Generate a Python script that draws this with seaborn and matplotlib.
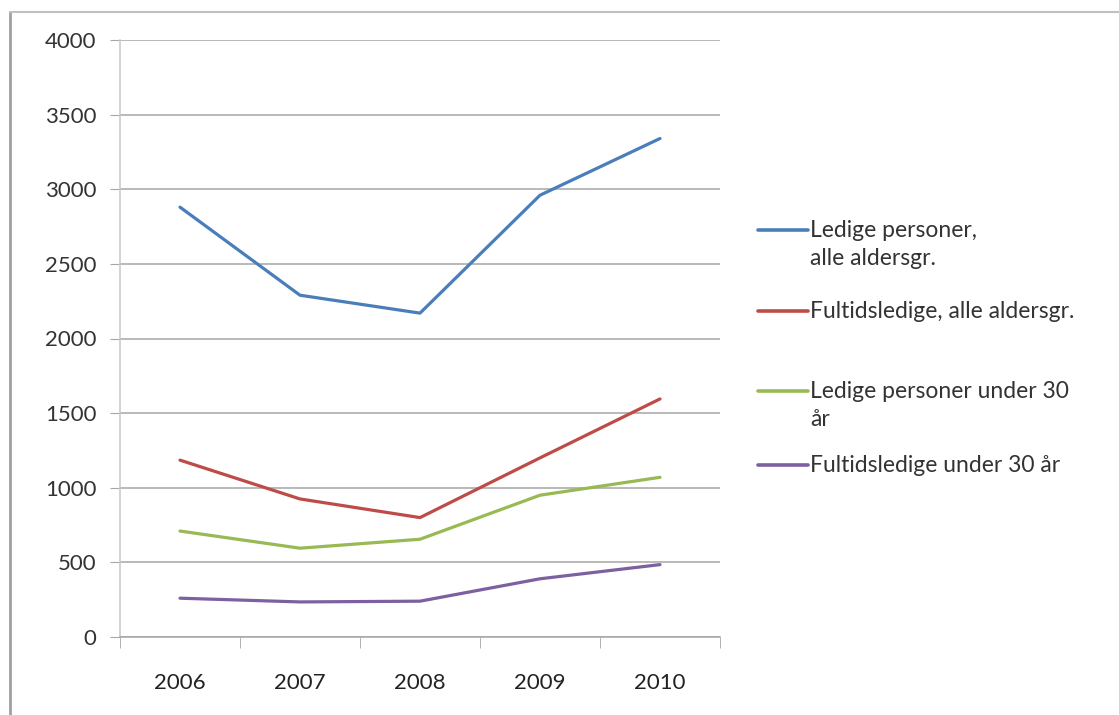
import pandas as pd
import matplotlib
matplotlib.use("Agg")
import matplotlib.pyplot as plt
import seaborn as sns
from matplotlib.lines import Line2D

# Data
years = ["2006", "2007", "2008", "2009", "2010"]
ledige_alle = [2880, 2290, 2170, 2960, 3340]
fultid_alle = [1185, 925, 800, 1200, 1595]
ledige_u30 = [710, 595, 655, 950, 1070]
fultid_u30 = [260, 235, 240, 390, 485]

series_names = [
    "Ledige personer,\nalle aldersgr.",
    "Fultidsledige, alle aldersgr.",
    "Ledige personer under 30\når",
    "Fultidsledige under 30 år",
]
colors = ["#4a7ebb", "#be4b48", "#98b954", "#7d60a0"]

df = pd.DataFrame({
    "year": years * 4,
    "pos": list(range(len(years))) * 4,
    "value": ledige_alle + fultid_alle + ledige_u30 + fultid_u30,
    "series": [s for s in series_names for _ in years],
})

sns.set_style("white")
plt.rcParams["font.family"] = ["Lato", "DejaVu Sans"]

fig = plt.figure(figsize=(11.19, 7.15), dpi=100)
ax = fig.add_axes([120 / 1119, 78 / 715, 600 / 1119, 597 / 715])

sns.lineplot(data=df, x="pos", y="value", hue="series", hue_order=series_names,
             palette=colors, linewidth=2.3, legend=False, ax=ax)

ax.set_xlim(-0.5, len(years) - 0.5)
ax.set_ylim(0, 4000)
ax.set_yticks(range(0, 4001, 500))
ax.set_xticks(range(len(years)))
ax.set_xticklabels(years)
ax.set_xticks([i - 0.5 for i in range(len(years) + 1)], minor=True)
ax.set_xlabel("")
ax.set_ylabel("")

ax.grid(axis="y", color="#a6a6a6", linewidth=1.1)
ax.set_axisbelow(True)
for side in ["top", "right"]:
    ax.spines[side].set_visible(False)
ax.spines["left"].set_color("#c8c8c8")
ax.spines["bottom"].set_color("#a6a6a6")
ax.spines["left"].set_linewidth(1.1)
ax.spines["bottom"].set_linewidth(1.1)

ax.tick_params(axis="y", which="major", length=7, color="#a6a6a6", pad=10,
               labelsize=16, labelcolor="#333333", left=True)
ax.tick_params(axis="x", which="major", length=0, pad=26, labelsize=16,
               labelcolor="#222222")
ax.tick_params(axis="x", which="minor", length=8, color="#a6a6a6", bottom=True)

# Manual legend laid out like the original (handle aligned with first line)
legend_rows = [230, 311, 391, 465]
for name, col, ypx in zip(series_names, colors, legend_rows):
    yf = 1 - ypx / 715
    fig.add_artist(Line2D([758 / 1119, 808 / 1119], [yf, yf], color=col,
                          linewidth=2.6, transform=fig.transFigure))
    fig.text(810 / 1119, 1 - (ypx - 10) / 715, name, fontsize=16.5,
             color="#333333", va="top", ha="left", linespacing=1.4)

# Outer chart frame (partially visible)
fig.add_artist(Line2D([10 / 1119, 10 / 1119], [0, 1 - 12 / 715],
                      color="#a0a0a0", linewidth=2, transform=fig.transFigure))
fig.add_artist(Line2D([10 / 1119, 1], [1 - 12 / 715, 1 - 12 / 715],
                      color="#c0c0c0", linewidth=1.5, transform=fig.transFigure))

fig.savefig("out.png", dpi=100)
